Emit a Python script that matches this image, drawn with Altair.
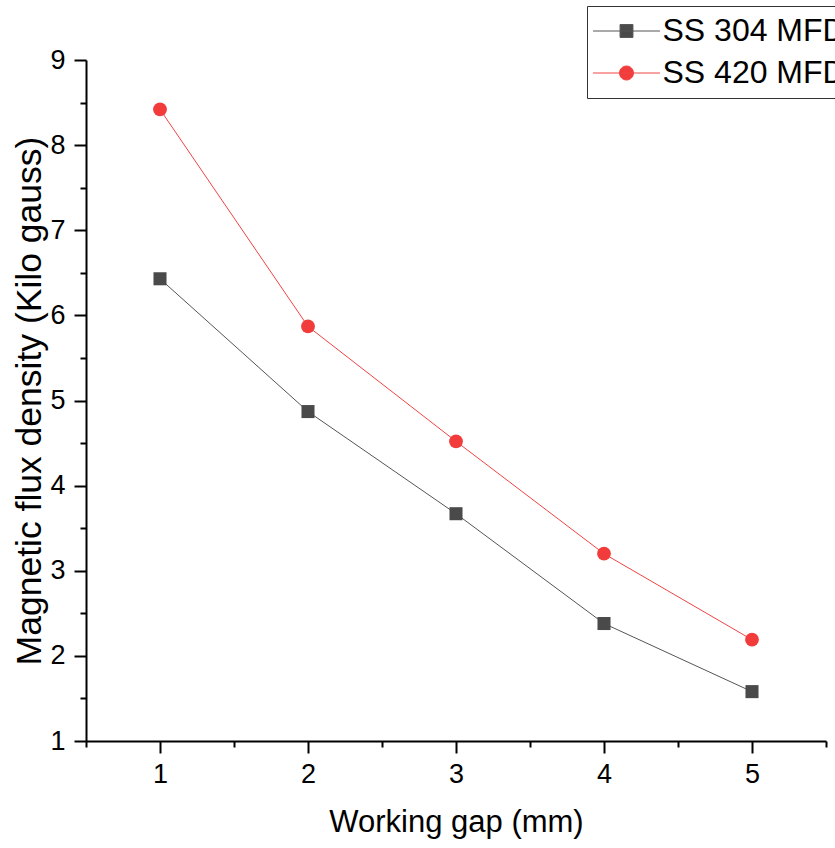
import altair as alt
import pandas as pd

gap = [1, 2, 3, 4, 5]
ss304 = [6.43, 4.87, 3.67, 2.38, 1.58]
ss420 = [8.42, 5.87, 4.52, 3.20, 2.19]
series = ["SS 304 MFD", "SS 420 MFD"]
x_ticks = [0.5, 1, 1.5, 2, 2.5, 3, 3.5, 4, 4.5, 5, 5.5]
y_ticks = [1, 1.5, 2, 2.5, 3, 3.5, 4, 4.5, 5, 5.5, 6, 6.5, 7, 7.5, 8, 8.5, 9]

line_colors = ["#555555", "#f04444"]
fill_colors = ["#4a4a4a", "#f23c3c"]

df = pd.DataFrame({
    "gap": gap * 2,
    "value": ss304 + ss420,
    "series": [series[0]] * 5 + [series[1]] * 5,
})

FONT = "Liberation Sans"

# legend glyphs: a line segment with the marker in its middle
path304 = "M-2.39,0H2.39M-0.46,-0.46H0.46V0.46H-0.46Z"
path420 = "M-2.39,0H2.39M0.5,0A0.5,0.5,0,1,1,-0.5,0A0.5,0.5,0,1,1,0.5,0Z"

tick_size = {"condition": {"test": "datum.value % 1 === 0", "value": 12}, "value": 6}
label_expr = "datum.value % 1 === 0 ? format(datum.value, 'd') : ''"

x_enc = alt.X(
    "gap:Q",
    scale=alt.Scale(domain=[0.5, 5.5], nice=False, zero=False),
    axis=alt.Axis(
        title="Working gap (mm)",
        values=x_ticks,
        labelExpr=label_expr,
        grid=False,
        domainColor="black", domainWidth=2,
        tickColor="black", tickWidth=2, tickSize=tick_size,
        labelFont=FONT, labelFontSize=27, labelColor="black", labelPadding=8,
        titleFont=FONT, titleFontSize=31, titleColor="black",
        titleFontWeight="normal", titlePadding=20,
    ),
)
y_enc = alt.Y(
    "value:Q",
    scale=alt.Scale(domain=[1, 9], nice=False, zero=False),
    axis=alt.Axis(
        title="Magnetic flux density (Kilo gauss)",
        values=y_ticks,
        labelExpr=label_expr,
        grid=False,
        domainColor="black", domainWidth=2,
        tickColor="black", tickWidth=2, tickSize=tick_size,
        labelFont=FONT, labelFontSize=27, labelColor="black", labelPadding=9,
        titleFont=FONT, titleFontSize=35.5, titleColor="black",
        titleFontWeight="normal", titlePadding=2,
    ),
)

legend = alt.Legend(
    title=None,
    orient="none",
    legendX=501,
    legendY=-54,
    padding=9,
    strokeColor="#333333",
    fillColor="white",
    symbolSize=784,
    symbolOffset=14.5,
    symbolStrokeWidth=1,
    symbolOpacity=1,
    labelOffset=20,
    labelLimit=600,
    labelFont=FONT,
    labelFontSize=32,
    labelColor="black",
    rowPadding=10,
)

lines = alt.Chart(df).mark_line(strokeWidth=1).encode(
    x=x_enc,
    y=y_enc,
    color=alt.Color("series:N", scale=alt.Scale(domain=series, range=line_colors), legend=legend),
)

pts304 = alt.Chart(df).transform_filter(
    alt.datum.series == series[0]
).mark_point(filled=True, size=170, opacity=1, shape="square", color=fill_colors[0]).encode(
    x=x_enc, y=y_enc
)
pts420 = alt.Chart(df).transform_filter(
    alt.datum.series == series[1]
).mark_point(filled=True, size=190, opacity=1, shape="circle", color=fill_colors[1]).encode(
    x=x_enc, y=y_enc
)

legend_layer = alt.Chart(df).mark_point(
    filled=True, size=784, strokeWidth=1, opacity=0
).encode(
    x=x_enc,
    y=y_enc,
    shape=alt.Shape("series:N", scale=alt.Scale(domain=series, range=[path304, path420]), legend=legend),
    fill=alt.Fill("series:N", scale=alt.Scale(domain=series, range=fill_colors), legend=legend),
    stroke=alt.Stroke("series:N", scale=alt.Scale(domain=series, range=line_colors), legend=legend),
)

chart = alt.layer(lines, pts304, pts420, legend_layer).properties(
    width=740,
    height=681,
    autosize=alt.AutoSizeParams(type="none"),
    padding={"left": 86, "top": 60, "right": 9, "bottom": 107},
    background="white",
).configure_view(stroke=None)

chart.save("out.html", embed_options={"renderer": "svg", "actions": False})
